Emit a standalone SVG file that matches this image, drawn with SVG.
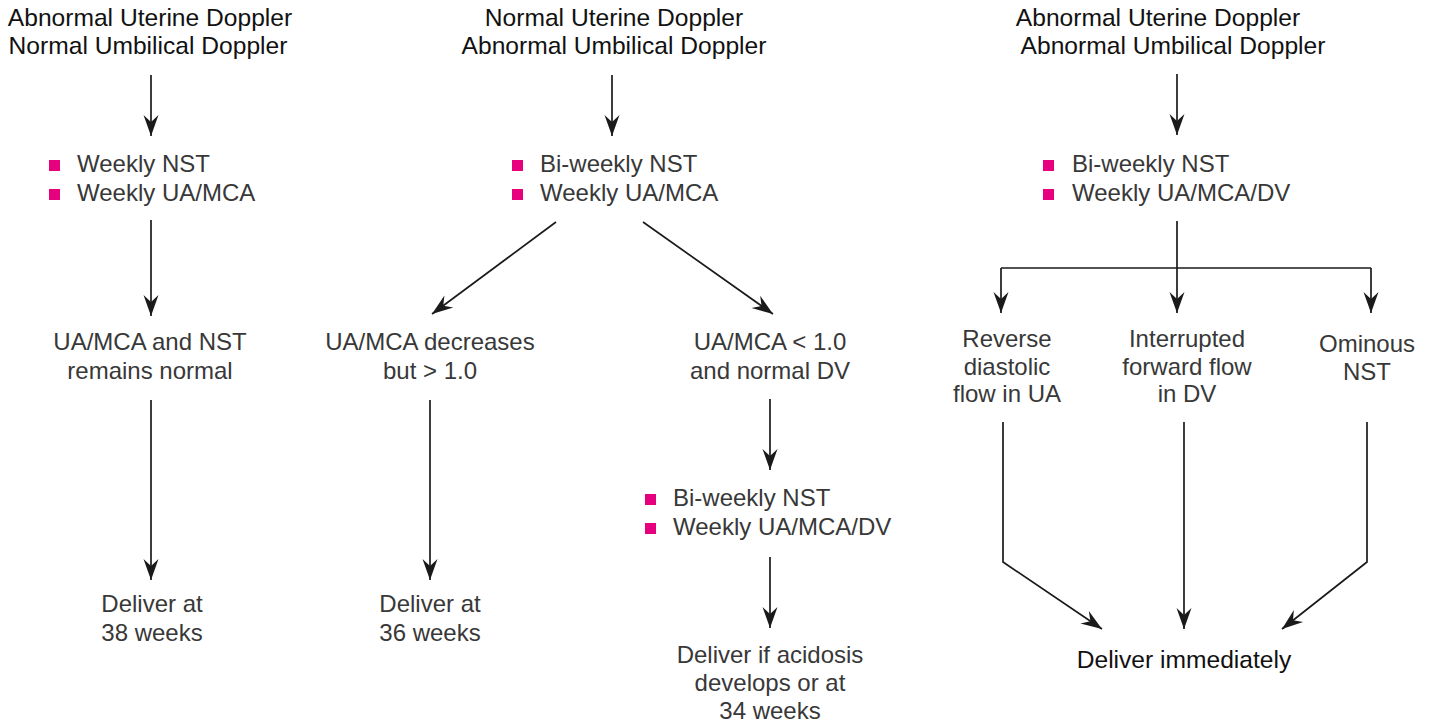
<svg xmlns="http://www.w3.org/2000/svg" width="1432" height="723" viewBox="0 0 1432 723">
<style>
.h{font-family:"Liberation Sans",Arial,sans-serif;font-size:24.6px;fill:#111;text-anchor:middle}
.t{font-family:"Liberation Sans",Arial,sans-serif;font-size:24px;fill:#383838;text-anchor:middle}
.b{font-family:"Liberation Sans",Arial,sans-serif;font-size:24px;fill:#383838}
.sq{fill:#e6007e}
.c{fill:none;stroke:#1a1a1a;stroke-width:1.7}
.a{marker-end:url(#ah)}
</style>
<defs>
<marker id="ah" viewBox="-22 -8 23 16" refX="0" refY="0" markerWidth="23" markerHeight="16" markerUnits="userSpaceOnUse" orient="auto">
<path d="M0,0 L-21,-7.5 L-14,0 L-21,7.5 Z" fill="#1a1a1a"/>
</marker>
</defs>
<g id="connectors">
<line class="c a" x1="151" y1="75" x2="151" y2="136"/>
<line class="c a" x1="151" y1="220" x2="151" y2="316"/>
<line class="c a" x1="151" y1="400" x2="151" y2="580"/>
<line class="c a" x1="612" y1="75" x2="612" y2="136"/>
<line class="c a" x1="556" y1="222" x2="432" y2="314"/>
<line class="c a" x1="643" y1="222" x2="773" y2="314"/>
<line class="c a" x1="430" y1="400" x2="430" y2="580"/>
<line class="c a" x1="770" y1="399" x2="770" y2="470"/>
<line class="c a" x1="770" y1="557" x2="770" y2="628"/>
<line class="c a" x1="1177" y1="74" x2="1177" y2="135"/>
<line class="c" x1="1177" y1="221" x2="1177" y2="268"/>
<polyline class="c" points="1001,268 1371,268"/>
<line class="c a" x1="1001" y1="268" x2="1001" y2="313"/>
<line class="c a" x1="1177" y1="268" x2="1177" y2="313"/>
<line class="c a" x1="1371" y1="268" x2="1371" y2="313"/>
<polyline class="c a" points="1003,422 1003,562 1102,629"/>
<line class="c a" x1="1184" y1="422" x2="1184" y2="629"/>
<polyline class="c a" points="1367,422 1367,562 1282,629"/>
</g>
<g id="h1"><text class="h" x="150" y="26">Abnormal Uterine Doppler</text><text class="h" x="148" y="54">Normal Umbilical Doppler</text></g>
<g id="h2"><text class="h" x="614" y="26">Normal Uterine Doppler</text><text class="h" x="614" y="54">Abnormal Umbilical Doppler</text></g>
<g id="h3"><text class="h" x="1158" y="26">Abnormal Uterine Doppler</text><text class="h" x="1173" y="54">Abnormal Umbilical Doppler</text></g>
<g id="m1"><rect class="sq" x="49" y="160" width="11" height="11"/><text class="b" x="77" y="172">Weekly NST</text><rect class="sq" x="49" y="189" width="11" height="11"/><text class="b" x="77" y="201">Weekly UA/MCA</text></g>
<g id="m2"><rect class="sq" x="512" y="160" width="11" height="11"/><text class="b" x="540" y="172">Bi-weekly NST</text><rect class="sq" x="512" y="189" width="11" height="11"/><text class="b" x="540" y="201">Weekly UA/MCA</text></g>
<g id="m3"><rect class="sq" x="1043" y="160" width="11" height="11"/><text class="b" x="1072" y="172">Bi-weekly NST</text><rect class="sq" x="1043" y="189" width="11" height="11"/><text class="b" x="1072" y="201">Weekly UA/MCA/DV</text></g>
<g id="n1"><text class="t" x="150" y="350">UA/MCA and NST</text><text class="t" x="150" y="379">remains normal</text></g>
<g id="d1"><text class="t" x="152" y="612">Deliver at</text><text class="t" x="152" y="641">38 weeks</text></g>
<g id="n2"><text class="t" x="430" y="350">UA/MCA decreases</text><text class="t" x="430" y="379">but &gt; 1.0</text></g>
<g id="d2"><text class="t" x="430" y="612">Deliver at</text><text class="t" x="430" y="641">36 weeks</text></g>
<g id="n3"><text class="t" x="770" y="350">UA/MCA &lt; 1.0</text><text class="t" x="770" y="379">and normal DV</text></g>
<g id="m4"><rect class="sq" x="645" y="494" width="11" height="11"/><text class="b" x="673" y="506">Bi-weekly NST</text><rect class="sq" x="645" y="523" width="11" height="11"/><text class="b" x="673" y="535">Weekly UA/MCA/DV</text></g>
<g id="d3"><text class="t" x="770" y="663">Deliver if acidosis</text><text class="t" x="770" y="691">develops or at</text><text class="t" x="770" y="719">34 weeks</text></g>
<g id="r1"><text class="t" x="1007" y="347">Reverse</text><text class="t" x="1007" y="375">diastolic</text><text class="t" x="1007" y="402">flow in UA</text></g>
<g id="r2"><text class="t" x="1187" y="347">Interrupted</text><text class="t" x="1187" y="375">forward flow</text><text class="t" x="1187" y="402">in DV</text></g>
<g id="r3"><text class="t" x="1367" y="352">Ominous</text><text class="t" x="1367" y="380">NST</text></g>
<g id="d4"><text class="h" x="1184" y="668">Deliver immediately</text></g>
</svg>
